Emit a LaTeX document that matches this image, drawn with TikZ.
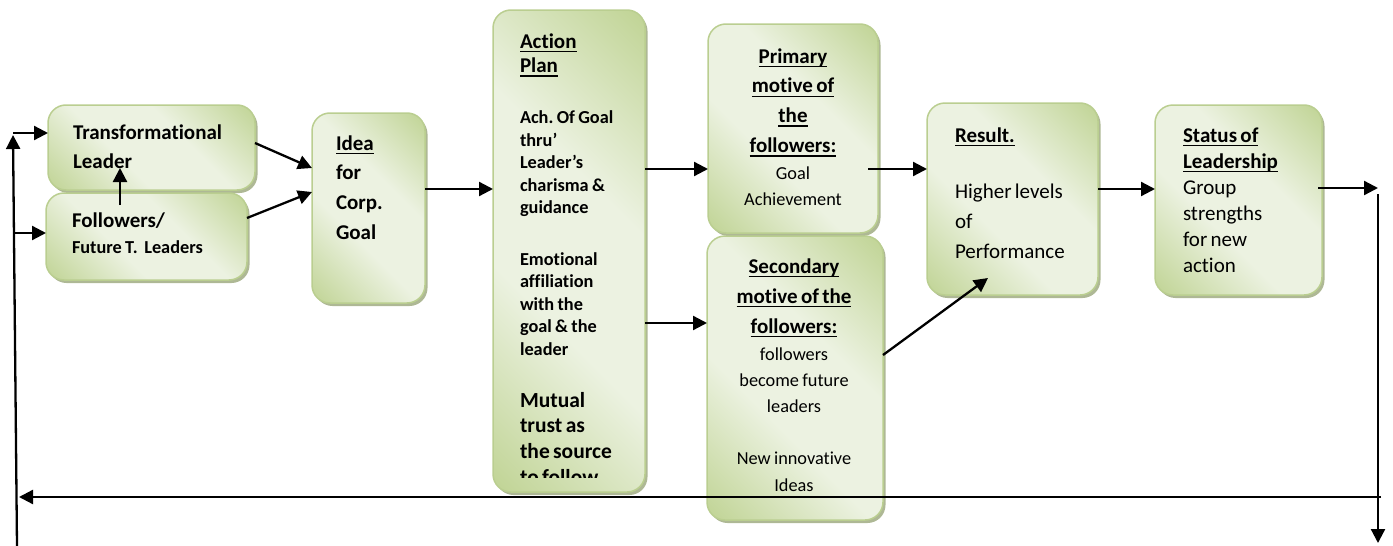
\documentclass[tikz,border=0pt]{standalone}
\usepackage{fontspec}
\setmainfont[Ligatures={NoCommon}]{Carlito}
\frenchspacing
\usetikzlibrary{arrows.meta,shadows,calc}
\definecolor{gdark}{RGB}{194,213,152}
\definecolor{glight}{RGB}{236,242,225}
\definecolor{gborder}{RGB}{186,206,144}
\definecolor{gshadow}{RGB}{160,172,130}
\pgfdeclareverticalshading{gbox}{100bp}{color(0bp)=(gdark); color(16bp)=(gdark); color(40bp)=(glight); color(60bp)=(glight); color(84bp)=(gdark); color(100bp)=(gdark)}
\newbox\myulbox
\newcommand\myul[1]{\leavevmode\setbox\myulbox\hbox{#1}\rlap{\rule[-4.4pt]{\wd\myulbox}{1.6pt}}\box\myulbox}
\tikzset{
  box/.style={draw=gborder, line width=1.5pt, rounded corners=18pt,
    shading=gbox, shading angle=-45,
    drop shadow={shadow xshift=2.5pt, shadow yshift=-3pt, fill=gshadow, opacity=0.85},
    inner sep=0pt, outer sep=0pt},
  txt/.style={inner sep=0pt, outer sep=0pt, anchor=base west, align=left, text width=#1},
  txt/.default=160pt,
  ctxt/.style={inner sep=0pt, outer sep=0pt, anchor=base, align=center, text width=#1},
  ctxt/.default=170pt,
  arr/.style={line width=2.3pt, -{Triangle[length=14pt,width=14pt]}},
}
\begin{document}
\begin{tikzpicture}[x=1pt,y=-1pt]
\useasboundingbox (0,0) rectangle (1393,546);
% boxes
\node[box, minimum width=207pt, minimum height=85pt] (b1) at (151.5,147.5) {};
\node[box, minimum width=201pt, minimum height=87pt] (b2) at (146.5,236.5) {};
\node[box, minimum width=113pt, minimum height=190pt] (b3) at (368.5,208) {};
\node[box, minimum width=152pt, minimum height=482pt] (b4) at (569,251) {};
\node[box, minimum width=170pt, minimum height=209pt] (b5) at (793,128.5) {};
\node[box, minimum width=176pt, minimum height=284pt] (b6) at (795,378) {};
\node[box, minimum width=171pt, minimum height=192pt] (b7) at (1012.5,199) {};
\node[box, minimum width=167pt, minimum height=190pt] (b8) at (1238.5,200) {};
% texts
\node[txt] (t1) at (73,139) {\fontsize{21}{29}\selectfont\bfseries Transformational\\Leader\par};
\node[txt] (t2) at (72,227) {\fontsize{18.3}{26}\selectfont\bfseries {\fontsize{21}{26}\selectfont Followers/}\\Future T.\ \ Leaders\par};
\node[txt] (t3) at (336,150) {\fontsize{21}{29.7}\selectfont\bfseries \myul{Idea}\\for\\Corp.\\Goal\par};
\node[txt] (t4a) at (520,48) {\fontsize{21}{24.5}\selectfont\bfseries \myul{Action}\\\myul{Plan}\par};
\node[txt] (t4b) at (520,123.5) {\fontsize{18.3}{22.6}\selectfont\bfseries Ach. Of Goal\\thru’\\Leader’s\\charisma \&\\guidance\par};
\node[txt] (t4c) at (520,265) {\fontsize{18.3}{22.6}\selectfont\bfseries Emotional\\affiliation\\with the\\goal \& the\\leader\par};
\begin{scope}
\clip (493,10) rectangle (645,477);
\node[txt] (t4d) at (520,407) {\fontsize{21.5}{25.7}\selectfont\bfseries Mutual\\trust as\\the source\\to follow\par};
\end{scope}
\node[ctxt] (t5a) at (793,63) {\fontsize{21}{29.7}\selectfont\bfseries \myul{Primary}\\\myul{motive of}\\\myul{the}\\\myul{followers:}\par};
\node[ctxt] (t5b) at (793,179) {\fontsize{18.3}{26}\selectfont Goal\\Achievement\par};
\node[ctxt] (t6a) at (794,273) {\fontsize{21}{30}\selectfont\bfseries \myul{Secondary}\\\myul{motive of the}\\\myul{followers:}\par};
\node[ctxt] (t6b) at (794,360) {\fontsize{18.3}{26.2}\selectfont followers\\become future\\leaders\\\mbox{}\\New innovative\\Ideas\par};
\node[txt] (t7a) at (955,142) {\fontsize{21}{30}\selectfont\bfseries \myul{Result.}\par};
\node[txt] (t7b) at (955,198) {\fontsize{21}{30}\selectfont Higher levels\\of\\Performance\par};
\node[txt] (t8) at (1183,142) {\fontsize{21}{26}\selectfont {\bfseries \myul{Status of}\\\myul{Leadership}}\\Group\\strengths\\for new\\action\par};
% free ends
\coordinate (lb) at (17,546);
\coordinate (lt) at (13,135);
\coordinate (l1) at (13,133);
\coordinate (l2) at (15,233);
\coordinate (r1) at (1378,188);
\coordinate (r2) at (1378,194);
\coordinate (r3) at (1378,543);
\coordinate (f1) at (1381,497);
\coordinate (f2) at (19,497);
% connectors
\draw[arr] (lb) -- (lt);
\draw[arr] (l1) -- (b1.west |- 0,133);
\draw[arr] (l2) -- (b2.west |- 0,233);
\draw[arr] ($(b2.north west)+(74,12)$) -- ($(b1.south west)+(72,-22)$);
\draw[arr] (b1.east |- 0,143) -- (b3.west |- 0,168);
\draw[arr] (b2.east |- 0,218) -- (b3.west |- 0,192);
\draw[arr] (b3.east |- 0,189) -- (b4.west |- 0,189);
\draw[arr] (b4.east |- 0,169) -- (b5.west |- 0,169);
\draw[arr] (b4.east |- 0,323) -- (b6.west |- 0,323);
\draw[arr] ($(b5.east |- 0,169)+(-10,0)$) -- (b7.west |- 0,169);
\draw[arr] (b6.east |- 0,355) -- ($(b7.south west)+(61,-17)$);
\draw[arr] (b7.east |- 0,189) -- (b8.west |- 0,189);
\draw[arr] ($(b8.east |- 0,188)+(-4,0)$) -- (r1);
\draw[arr] (r2) -- (r3);
\draw[arr] (f1) -- (f2);
\end{tikzpicture}
\end{document}
